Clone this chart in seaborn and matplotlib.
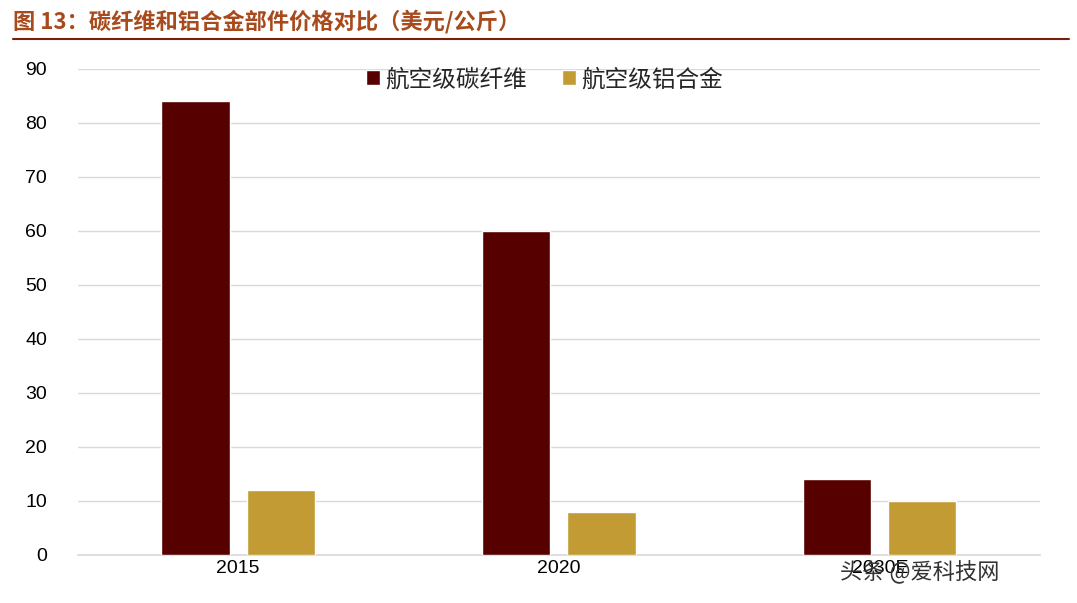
import pandas as pd
import matplotlib.pyplot as plt
import seaborn as sns

years = ['2015', '2020', '2030E']
carbon = [84, 60, 14]
alu = [12, 8, 10]
series = ['航空级碳纤维', '航空级铝合金']

sns.set_theme(style='white')
plt.rcParams['font.family'] = ['Noto Sans CJK SC', 'DejaVu Sans']

df = pd.DataFrame({
    'year': years * 2,
    'value': carbon + alu,
    'kind': [series[0]] * 3 + [series[1]] * 3,
})

fig = plt.figure(figsize=(10.77, 6.03), dpi=100)
ax = fig.add_axes([0.072, 0.08, 0.894, 0.806])
sns.barplot(data=df, x='year', y='value', hue='kind', hue_order=series,
            palette=['#560000', '#C29B35'], width=0.53, gap=0.2,
            saturation=1, ax=ax, zorder=3)
ax.set_ylim(0, 90)
ax.set_yticks(range(0, 91, 10))
ax.yaxis.grid(True, color='#D9D9D9', lw=1, zorder=0)
for s in ['top', 'right', 'left']:
    ax.spines[s].set_visible(False)
ax.spines['bottom'].set_color('#D9D9D9')
ax.set_xlabel('')
ax.set_ylabel('')
ax.tick_params(labelsize=14, colors='black', length=0)
for t in ax.get_xticklabels() + ax.get_yticklabels():
    t.set_family('Liberation Sans')
ax.tick_params(axis='y', pad=22)
leg = ax.legend(loc='upper center', bbox_to_anchor=(0.485, 1.045), ncol=2, frameon=False,
                fontsize=17, handlelength=0.6, handleheight=0.6, handletextpad=0.2,
                columnspacing=1.5)

fig.text(0.012, 0.965, '图 13：碳纤维和铝合金部件价格对比（美元/公斤）', color='#A84A1C',
         fontsize=16, fontweight='bold', va='center')
fig.add_artist(plt.Line2D([0.012, 0.993], [0.935, 0.935], color='#7A1E0F', lw=1.5))
fig.text(0.78, 0.05, '头条 @爱科技网', color='#333333', fontsize=16, va='center')

fig.savefig('out.png', dpi=100)
